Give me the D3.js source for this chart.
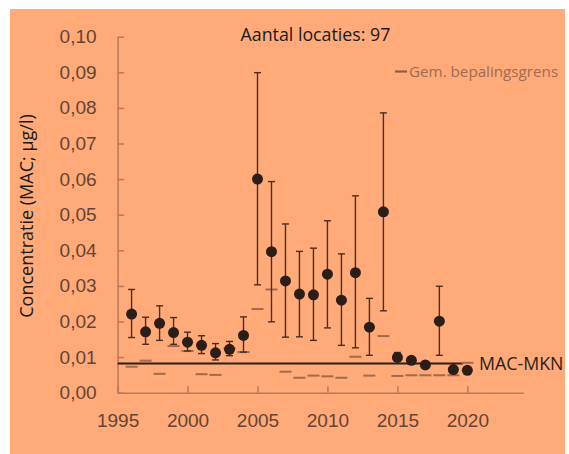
<!DOCTYPE html>
<html>
<head>
<meta charset="utf-8">
<script src="https://cdnjs.cloudflare.com/ajax/libs/d3/7.8.5/d3.min.js"></script>
<style>
  body { margin: 0; background: #fff; }
  svg { font-family: "Open Sans", sans-serif; }
</style>
</head>
<body>
<div id="chart"></div>
<script>
var svgWidth = 569;
var svgHeight = 454;

// data
var years = [1996, 1997, 1998, 1999, 2000, 2001, 2002, 2003, 2004, 2005, 2006, 2007, 2008,
  2009, 2010, 2011, 2012, 2013, 2014, 2015, 2016, 2017, 2018, 2019, 2020];
var meanValues = [0.0221, 0.0171, 0.0195, 0.0169, 0.0142, 0.0133, 0.0112, 0.0122, 0.0161, 0.0600,
  0.0396, 0.0314, 0.0277, 0.0275, 0.0333, 0.0260, 0.0337, 0.0184, 0.0508, 0.0099, 0.0091, 0.0078,
  0.0201, 0.0065, 0.0063];
var upperValues = [0.0290, 0.0212, 0.0244, 0.0211, 0.0170, 0.0160, 0.0138, 0.0144, 0.0213, 0.0899,
  0.0593, 0.0474, 0.0397, 0.0406, 0.0483, 0.0390, 0.0553, 0.0265, 0.0786, 0.0113, 0.0097, 0.0082,
  0.0299, 0.0068, 0.0065];
var lowerValues = [0.0155, 0.0136, 0.0147, 0.0136, 0.0117, 0.0110, 0.0092, 0.0104, 0.0114, 0.0303,
  0.0199, 0.0156, 0.0157, 0.0147, 0.0182, 0.0133, 0.0126, 0.0105, 0.0230, 0.0088, 0.0085, 0.0074,
  0.0105, 0.0063, 0.0061];
var loqValues = [0.0073, 0.0090, 0.0053, 0.0131, 0.0117, 0.0052, 0.0050, 0.0125, 0.0114, 0.0235,
  0.0290, 0.0059, 0.0042, 0.0048, 0.0046, 0.0042, 0.0101, 0.0048, 0.0159, 0.0047, 0.0049, 0.0049,
  0.0049, 0.0049, 0.0084];
var macMkn = 0.0082;
var macYears = [1995, 2019.7];
var yTicks = [0, 0.01, 0.02, 0.03, 0.04, 0.05, 0.06, 0.07, 0.08, 0.09, 0.10];
var xTicks = [1995, 2000, 2005, 2010, 2015, 2020];
var title = "Aantal locaties: 97";

var svg = d3.select("#chart")
  .append("svg")
  .attr("width", svgWidth)
  .attr("height", svgHeight);

// orange panel
svg.append("rect")
  .attr("x", 10)
  .attr("y", 9)
  .attr("width", 555)
  .attr("height", 445)
  .attr("fill", "#ffaa78");

var x = d3.scaleLinear().domain([1995, 2024]).range([117.6, 523.3]);
var y = d3.scaleLinear().domain([0, 0.10]).range([392.7, 36.7]);

var axisColor = "#b57a5c";
var tickText = "#634435";

// y axis
var yAxis = svg.append("g")
  .attr("transform", `translate(${x(1995)},0)`)
  .call(d3.axisLeft(y).tickValues(yTicks).tickSizeInner(-6.5).tickSizeOuter(0)
    .tickFormat(d => d3.format(".2f")(d).replace(".", ",")).tickPadding(21));
yAxis.select(".domain").attr("stroke", axisColor).attr("stroke-width", 1.5);
yAxis.selectAll(".tick line").attr("stroke", axisColor).attr("stroke-width", 1.5);
yAxis.selectAll(".tick text").attr("fill", tickText).attr("font-size", 19);

// x axis
var xAxis = svg.append("g")
  .attr("transform", `translate(0,${y(0)})`)
  .call(d3.axisBottom(x).tickValues(xTicks).tickSizeInner(-6.5).tickSizeOuter(0)
    .tickFormat(d3.format("d")).tickPadding(21));
xAxis.select(".domain").attr("stroke", axisColor).attr("stroke-width", 1.5);
xAxis.selectAll(".tick line").attr("stroke", axisColor).attr("stroke-width", 1.5);
xAxis.selectAll(".tick text").attr("fill", tickText).attr("font-size", 19);

// y label
svg.append("text")
  .attr("transform", `translate(33,${216}) rotate(-90)`)
  .attr("text-anchor", "middle")
  .attr("font-size", 18)
  .attr("fill", "#1a1a1a")
  .text("Concentratie (MAC; µg/l)");

// title
svg.append("text")
  .attr("x", 315.5)
  .attr("y", 41)
  .attr("text-anchor", "middle")
  .attr("font-size", 17.8)
  .attr("fill", "#1a1a1a")
  .text(title);

// MAC-MKN line
svg.append("line")
  .attr("x1", x(macYears[0]))
  .attr("x2", x(macYears[1]))
  .attr("y1", y(macMkn))
  .attr("y2", y(macMkn))
  .attr("stroke", "#2b1d17")
  .attr("stroke-width", 2);

svg.append("text")
  .attr("x", 479)
  .attr("y", y(macMkn) + 6.5)
  .attr("font-size", 17.8)
  .attr("fill", "#2a1f1a")
  .text("MAC-MKN");

var data = years.map((yr, i) => ({
  year: yr, mean: meanValues[i], upper: upperValues[i], lower: lowerValues[i], loq: loqValues[i]
}));

// limit of quantification dashes
svg.selectAll(".loq")
  .data(data)
  .enter()
  .append("line")
  .attr("class", "loq")
  .attr("x1", d => x(d.year) - 6)
  .attr("x2", d => x(d.year) + 6)
  .attr("y1", d => y(d.loq))
  .attr("y2", d => y(d.loq))
  .attr("stroke", "#a36a4c")
  .attr("stroke-width", 2);

// error bars
var errColor = "#4a2e22";
var bars = svg.selectAll(".err")
  .data(data)
  .enter()
  .append("g")
  .attr("class", "err");
bars.append("line")
  .attr("x1", d => x(d.year)).attr("x2", d => x(d.year))
  .attr("y1", d => y(d.upper)).attr("y2", d => y(d.lower))
  .attr("stroke", errColor).attr("stroke-width", 1.4);
bars.append("line")
  .attr("x1", d => x(d.year) - 3.5).attr("x2", d => x(d.year) + 3.5)
  .attr("y1", d => y(d.upper)).attr("y2", d => y(d.upper))
  .attr("stroke", errColor).attr("stroke-width", 1.4);
bars.append("line")
  .attr("x1", d => x(d.year) - 3.5).attr("x2", d => x(d.year) + 3.5)
  .attr("y1", d => y(d.lower)).attr("y2", d => y(d.lower))
  .attr("stroke", errColor).attr("stroke-width", 1.4);

// means
svg.selectAll(".dot")
  .data(data)
  .enter()
  .append("circle")
  .attr("class", "dot")
  .attr("cx", d => x(d.year))
  .attr("cy", d => y(d.mean))
  .attr("r", 5.5)
  .attr("fill", "#2b1d17");

// legend
svg.append("line")
  .attr("x1", 395).attr("x2", 407)
  .attr("y1", 71.5).attr("y2", 71.5)
  .attr("stroke", "#8f5c42")
  .attr("stroke-width", 2.2);
svg.append("text")
  .attr("x", 409)
  .attr("y", 76.5)
  .attr("font-size", 15.2)
  .attr("fill", "#a06a50")
  .text("Gem. bepalingsgrens");
</script>
</body>
</html>
